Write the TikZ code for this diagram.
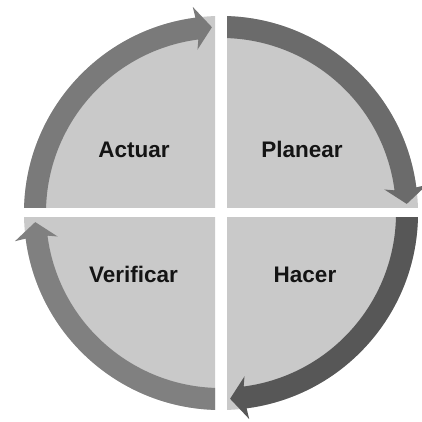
\documentclass[tikz,border=0pt]{standalone}
\usepackage{fontspec}
\setmainfont{Liberation Sans}
\begin{document}
\begin{tikzpicture}[x=1pt,y=1pt,
  quadfill/.style={fill=black!21},
  lbl/.style={anchor=base,text=black!92,font=\fontsize{22.5}{27}\selectfont\bfseries,inner sep=0pt}]
\useasboundingbox (-221,-209) rectangle (200,213);
% #1,#2 clip corners; #3 band start angle; #4 quadrant end angle; #5 band colour
\newcommand{\pdcaquad}[5]{%
  \begin{scope}
    \clip #1 rectangle #2;
    \fill[quadfill] (0,0) circle[radius=197];
    \fill[#5] (#3:197) arc[start angle=#3, end angle=#4+7, radius=197]
      -- (#4+7:175) arc[start angle=#4+7, end angle=#3, radius=175] -- cycle;
    \fill[#5] (#4+7.8:208) -- (#4+2.8:186) -- (#4+8.2:165) -- (#4+7.5:174) -- (#4+7.5:198) -- cycle;
  \end{scope}}
\pdcaquad{(-230,5)}{(-6,220)}{185}{90}{black!52}
\pdcaquad{(6,5)}{(215,220)}{95}{0}{black!58}
\pdcaquad{(6,-5)}{(215,-215)}{5}{-90}{black!66}
\pdcaquad{(-230,-5)}{(-6,-215)}{-85}{-180}{black!50}
\node[lbl] (actuar) at (-87,55) {Actuar};
\node[lbl] (planear) at (81,55) {Planear};
\node[lbl] (verificar) at (-87.5,-70) {Verificar};
\node[lbl] (hacer) at (84,-70) {Hacer};
\end{tikzpicture}
\end{document}
